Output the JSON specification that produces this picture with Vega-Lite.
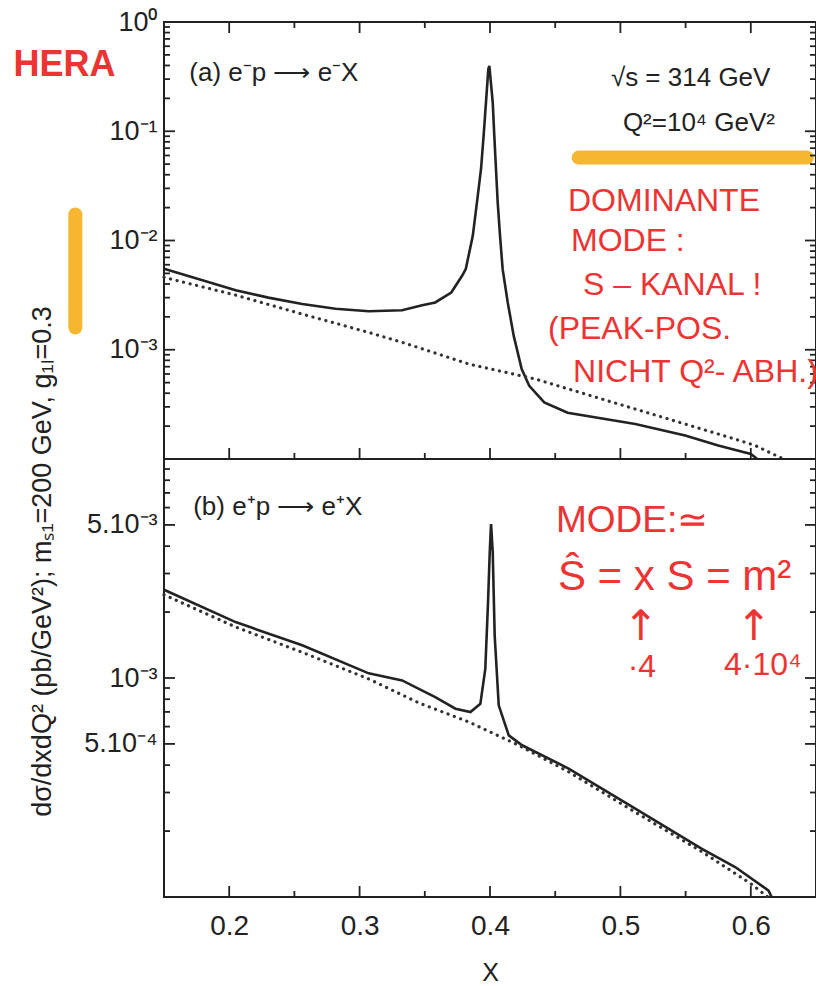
{
  "$schema": "https://vega.github.io/schema/vega-lite/v6.json",
  "padding": {"left": 12, "top": 7, "right": 0, "bottom": 0},
  "bounds": "flush",
  "spacing": 0,
  "background": "white",
  "config": {
    "view": {"stroke": "#222", "strokeWidth": 2},
    "axis": {
      "grid": false,
      "domain": false,
      "ticks": false,
      "tickSize": 0,
      "labelFont": "Liberation Sans",
      "labelFontSize": 27,
      "labelColor": "#222",
      "titleFont": "Liberation Sans",
      "titleColor": "#222",
      "titleFontWeight": "normal"
    },
    "rule": {"color": "#222", "strokeWidth": 1.8},
    "text": {"font": "Liberation Sans"}
  },
  "datasets": {
    "xMajor": [{"x": 0.2}, {"x": 0.3}, {"x": 0.4}, {"x": 0.5}, {"x": 0.6}],
    "xMinor": [{"x": 0.25}, {"x": 0.35}, {"x": 0.45}, {"x": 0.55}],
    "yTopMajor": [{"y": 0.001}, {"y": 0.01}, {"y": 0.1}],
    "yTopMinor": [
      {"y": 0.0002}, {"y": 0.0003}, {"y": 0.0004}, {"y": 0.0005}, {"y": 0.0006}, {"y": 0.0007}, {"y": 0.0008}, {"y": 0.0009},
      {"y": 0.002}, {"y": 0.003}, {"y": 0.004}, {"y": 0.005}, {"y": 0.006}, {"y": 0.007}, {"y": 0.008}, {"y": 0.009},
      {"y": 0.02}, {"y": 0.03}, {"y": 0.04}, {"y": 0.05}, {"y": 0.06}, {"y": 0.07}, {"y": 0.08}, {"y": 0.09},
      {"y": 0.2}, {"y": 0.3}, {"y": 0.4}, {"y": 0.5}, {"y": 0.6}, {"y": 0.7}, {"y": 0.8}, {"y": 0.9}
    ],
    "yBotMajor": [{"y": 0.0005}, {"y": 0.001}, {"y": 0.005}],
    "yBotMinor": [
      {"y": 0.0002}, {"y": 0.0003}, {"y": 0.0004}, {"y": 0.0006}, {"y": 0.0007}, {"y": 0.0008}, {"y": 0.0009},
      {"y": 0.002}, {"y": 0.003}, {"y": 0.004}, {"y": 0.006}, {"y": 0.007}, {"y": 0.008}, {"y": 0.009}
    ],
    "topSolid": [
      {"x": 0.15, "y": 0.0055}, {"x": 0.175, "y": 0.0045}, {"x": 0.205, "y": 0.0035}, {"x": 0.23, "y": 0.003},
      {"x": 0.256, "y": 0.00262}, {"x": 0.2815, "y": 0.00237}, {"x": 0.307, "y": 0.00225}, {"x": 0.3326, "y": 0.0023},
      {"x": 0.348, "y": 0.00255}, {"x": 0.358, "y": 0.00271}, {"x": 0.3703, "y": 0.00334}, {"x": 0.3786, "y": 0.00475},
      {"x": 0.3814, "y": 0.00547}, {"x": 0.3868, "y": 0.01104}, {"x": 0.39, "y": 0.0223}, {"x": 0.3931, "y": 0.0449},
      {"x": 0.3951, "y": 0.0906}, {"x": 0.3969, "y": 0.183}, {"x": 0.3987, "y": 0.369}, {"x": 0.3995, "y": 0.396},
      {"x": 0.4021, "y": 0.183}, {"x": 0.4033, "y": 0.0906}, {"x": 0.4046, "y": 0.0449}, {"x": 0.4059, "y": 0.0223},
      {"x": 0.4077, "y": 0.01104}, {"x": 0.4097, "y": 0.00547}, {"x": 0.4136, "y": 0.00271}, {"x": 0.4182, "y": 0.00134},
      {"x": 0.4243, "y": 0.000665}, {"x": 0.4301, "y": 0.000468}, {"x": 0.4416, "y": 0.00033}, {"x": 0.4595, "y": 0.000265},
      {"x": 0.5114, "y": 0.000209}, {"x": 0.5497, "y": 0.000164}, {"x": 0.575, "y": 0.000133}, {"x": 0.6, "y": 0.000111},
      {"x": 0.605, "y": 0.0001}
    ],
    "topDot": [
      {"x": 0.15, "y": 0.0046}, {"x": 0.205, "y": 0.00316}, {"x": 0.256, "y": 0.00212}, {"x": 0.307, "y": 0.00144},
      {"x": 0.3326, "y": 0.00117}, {"x": 0.3837, "y": 0.00074}, {"x": 0.4347, "y": 0.00054}, {"x": 0.4858, "y": 0.000354},
      {"x": 0.537, "y": 0.000232}, {"x": 0.588, "y": 0.000152}, {"x": 0.6033, "y": 0.000133}, {"x": 0.625, "y": 0.0001}
    ],
    "botSolid": [
      {"x": 0.15, "y": 0.00253}, {"x": 0.2049, "y": 0.0018}, {"x": 0.256, "y": 0.00141}, {"x": 0.307, "y": 0.00105},
      {"x": 0.3326, "y": 0.000975}, {"x": 0.358, "y": 0.000818}, {"x": 0.3735, "y": 0.000724}, {"x": 0.385, "y": 0.000699},
      {"x": 0.3926, "y": 0.000762}, {"x": 0.3964, "y": 0.0011}, {"x": 0.3985, "y": 0.00222}, {"x": 0.3998, "y": 0.00375},
      {"x": 0.4008, "y": 0.00505}, {"x": 0.4021, "y": 0.00375}, {"x": 0.4036, "y": 0.00156}, {"x": 0.4067, "y": 0.00075},
      {"x": 0.4144, "y": 0.000547}, {"x": 0.4246, "y": 0.000493}, {"x": 0.4603, "y": 0.000386}, {"x": 0.5114, "y": 0.000253},
      {"x": 0.5625, "y": 0.000166}, {"x": 0.588, "y": 0.000137}, {"x": 0.6136, "y": 0.000107}, {"x": 0.616, "y": 0.0001}
    ],
    "botDot": [
      {"x": 0.15, "y": 0.0024}, {"x": 0.2049, "y": 0.00171}, {"x": 0.256, "y": 0.00131}, {"x": 0.307, "y": 0.00099},
      {"x": 0.3454, "y": 0.00077}, {"x": 0.3837, "y": 0.00063}, {"x": 0.422, "y": 0.000493}, {"x": 0.4603, "y": 0.000373},
      {"x": 0.5114, "y": 0.000244}, {"x": 0.5625, "y": 0.000161}, {"x": 0.6, "y": 0.000115}, {"x": 0.613, "y": 0.0001}
    ],
    "highlights": [
      {"x": 0.468, "x2": 0.643, "y": 0.0574, "y2": 0.0574},
      {"x": 0.082, "x2": 0.082, "y": 0.0173, "y2": 0.0016}
    ],
    "topPrinted": [
      {"x": 0.1694, "y": 0.344, "text": "(a)  e⁻p ⟶ e⁻X"},
      {"x": 0.4927, "y": 0.31, "text": "√s = 314 GeV"},
      {"x": 0.5019, "y": 0.12, "text": "Q²=10⁴ GeV²"}
    ],
    "hera": [
      {"x": 0.0346, "y": 0.407, "text": "HERA"}
    ],
    "topNotes": [
      {"x": 0.4598, "y": 0.0232, "text": "DOMINANTE"},
      {"x": 0.4621, "y": 0.01, "text": "MODE :"},
      {"x": 0.4713, "y": 0.00388, "text": "S – KANAL !"},
      {"x": 0.4445, "y": 0.001535, "text": "(PEAK-POS."},
      {"x": 0.4637, "y": 0.000621, "text": "NICHT Q²- ABH.)"}
    ],
    "botPrinted": [
      {"x": 0.1724, "y": 0.00602, "text": "(b)  e⁺p ⟶ e⁺X"}
    ],
    "botMode": [
      {"x": 0.4506, "y": 0.0052, "text": "MODE:≃"}
    ],
    "botEq": [
      {"x": 0.4521, "y": 0.00288, "text": "Ŝ = x S = m²"}
    ],
    "botArrows": [
      {"x": 0.5157, "y": 0.001706, "text": "↑"},
      {"x": 0.6023, "y": 0.001706, "text": "↑"}
    ],
    "botVals": [
      {"x": 0.5165, "y": 0.00112, "text": "·4"},
      {"x": 0.6093, "y": 0.00115, "text": "4·10⁴"}
    ]
  },
  "vconcat": [
    {
      "width": 652,
      "height": 437,
      "resolve": {"axis": {"x": "independent", "y": "independent"}},
      "layer": [
        {
          "data": {"name": "highlights"},
          "mark": {"type": "rule", "color": "#f3b324", "strokeWidth": 14, "strokeCap": "round", "opacity": 0.95},
          "encoding": {
            "x": {"field": "x", "type": "quantitative", "scale": {"domain": [0.15, 0.65], "nice": false, "zero": false}, "axis": null},
            "x2": {"field": "x2"},
            "y": {"field": "y", "type": "quantitative", "scale": {"type": "log", "domain": [0.0001, 1], "nice": false}, "axis": null},
            "y2": {"field": "y2"}
          }
        },
        {
          "data": {"name": "xMajor"},
          "mark": {"type": "rule"},
          "encoding": {
            "x": {"field": "x", "type": "quantitative", "axis": null},
            "y": {"datum": 1, "type": "quantitative", "axis": null},
            "y2": {"datum": 0.793}
          }
        },
        {
          "data": {"name": "xMinor"},
          "mark": {"type": "rule"},
          "encoding": {
            "x": {"field": "x", "type": "quantitative", "axis": null},
            "y": {"datum": 1, "type": "quantitative", "axis": null},
            "y2": {"datum": 0.881}
          }
        },
        {
          "data": {"name": "xMajor"},
          "mark": {"type": "rule"},
          "encoding": {
            "x": {"field": "x", "type": "quantitative", "axis": null},
            "y": {"datum": 0.0001, "type": "quantitative", "axis": null},
            "y2": {"datum": 0.00012606}
          }
        },
        {
          "data": {"name": "xMinor"},
          "mark": {"type": "rule"},
          "encoding": {
            "x": {"field": "x", "type": "quantitative", "axis": null},
            "y": {"datum": 0.0001, "type": "quantitative", "axis": null},
            "y2": {"datum": 0.00011348}
          }
        },
        {
          "data": {"name": "yTopMajor"},
          "mark": {"type": "rule"},
          "encoding": {
            "x": {"datum": 0.15, "type": "quantitative", "axis": null},
            "x2": {"datum": 0.15844},
            "y": {"field": "y", "type": "quantitative", "axis": null}
          }
        },
        {
          "data": {"name": "yTopMinor"},
          "mark": {"type": "rule"},
          "encoding": {
            "x": {"datum": 0.15, "type": "quantitative", "axis": null},
            "x2": {"datum": 0.1546},
            "y": {"field": "y", "type": "quantitative", "axis": null}
          }
        },
        {
          "data": {"name": "yTopMajor"},
          "mark": {"type": "rule"},
          "encoding": {
            "x": {"datum": 0.65, "type": "quantitative", "axis": null},
            "x2": {"datum": 0.64156},
            "y": {"field": "y", "type": "quantitative", "axis": null}
          }
        },
        {
          "data": {"name": "yTopMinor"},
          "mark": {"type": "rule"},
          "encoding": {
            "x": {"datum": 0.65, "type": "quantitative", "axis": null},
            "x2": {"datum": 0.6454},
            "y": {"field": "y", "type": "quantitative", "axis": null}
          }
        },
        {
          "data": {"name": "topSolid"},
          "mark": {"type": "line", "color": "#222", "strokeWidth": 2.6},
          "encoding": {
            "x": {"field": "x", "type": "quantitative", "axis": null},
            "y": {"field": "y", "type": "quantitative",
              "axis": {"orient": "left", "title": null, "labelPadding": 7,
                "values": [0.001, 0.01, 0.1, 1],
                "labelExpr": "datum.value == 1 ? '10⁰' : datum.value == 0.1 ? '10⁻¹' : datum.value == 0.01 ? '10⁻²' : datum.value == 0.001 ? '10⁻³' : ''"}}
          }
        },
        {
          "data": {"name": "topDot"},
          "mark": {"type": "line", "color": "#333", "strokeWidth": 3.2, "strokeDash": [0.1, 6.6], "strokeCap": "round"},
          "encoding": {
            "x": {"field": "x", "type": "quantitative", "axis": null},
            "y": {"field": "y", "type": "quantitative", "axis": null}
          }
        },
        {
          "data": {"name": "topPrinted"},
          "mark": {"type": "text", "align": "left", "baseline": "middle", "fontSize": 26, "color": "#222"},
          "encoding": {
            "x": {"field": "x", "type": "quantitative", "axis": null},
            "y": {"field": "y", "type": "quantitative", "axis": null},
            "text": {"field": "text"}
          }
        },
        {
          "data": {"name": "hera"},
          "mark": {"type": "text", "align": "left", "baseline": "middle", "fontSize": 36, "fontWeight": "bold", "color": "#ee3333"},
          "encoding": {
            "x": {"field": "x", "type": "quantitative", "axis": null},
            "y": {"field": "y", "type": "quantitative", "axis": null},
            "text": {"field": "text"}
          }
        },
        {
          "data": {"name": "topNotes"},
          "mark": {"type": "text", "align": "left", "baseline": "middle", "fontSize": 32, "color": "#ee3333"},
          "encoding": {
            "x": {"field": "x", "type": "quantitative", "axis": null},
            "y": {"field": "y", "type": "quantitative", "axis": null},
            "text": {"field": "text"}
          }
        }
      ]
    },
    {
      "width": 652,
      "height": 438,
      "resolve": {"axis": {"x": "independent", "y": "independent"}},
      "layer": [
        {
          "data": {"name": "xMajor"},
          "mark": {"type": "rule"},
          "encoding": {
            "x": {"field": "x", "type": "quantitative", "scale": {"domain": [0.15, 0.65], "nice": false, "zero": false}, "axis": null},
            "y": {"datum": 0.0001, "type": "quantitative", "scale": {"type": "log", "domain": [0.0001, 0.01], "nice": false}, "axis": null},
            "y2": {"datum": 0.00011225}
          }
        },
        {
          "data": {"name": "xMinor"},
          "mark": {"type": "rule"},
          "encoding": {
            "x": {"field": "x", "type": "quantitative", "axis": null},
            "y": {"datum": 0.0001, "type": "quantitative", "axis": null},
            "y2": {"datum": 0.0001065}
          }
        },
        {
          "data": {"name": "yBotMajor"},
          "mark": {"type": "rule"},
          "encoding": {
            "x": {"datum": 0.15, "type": "quantitative", "axis": null},
            "x2": {"datum": 0.15844},
            "y": {"field": "y", "type": "quantitative", "axis": null}
          }
        },
        {
          "data": {"name": "yBotMinor"},
          "mark": {"type": "rule"},
          "encoding": {
            "x": {"datum": 0.15, "type": "quantitative", "axis": null},
            "x2": {"datum": 0.1546},
            "y": {"field": "y", "type": "quantitative", "axis": null}
          }
        },
        {
          "data": {"name": "yBotMajor"},
          "mark": {"type": "rule"},
          "encoding": {
            "x": {"datum": 0.65, "type": "quantitative", "axis": null},
            "x2": {"datum": 0.64156},
            "y": {"field": "y", "type": "quantitative", "axis": null}
          }
        },
        {
          "data": {"name": "yBotMinor"},
          "mark": {"type": "rule"},
          "encoding": {
            "x": {"datum": 0.65, "type": "quantitative", "axis": null},
            "x2": {"datum": 0.6454},
            "y": {"field": "y", "type": "quantitative", "axis": null}
          }
        },
        {
          "data": {"name": "botSolid"},
          "mark": {"type": "line", "color": "#222", "strokeWidth": 2.6},
          "encoding": {
            "x": {"field": "x", "type": "quantitative",
              "axis": {"orient": "bottom", "title": "X", "titleFontSize": 25, "titlePadding": 20, "labelPadding": 15, "labelFontSize": 28,
                "values": [0.2, 0.3, 0.4, 0.5, 0.6],
                "labelExpr": "format(datum.value, '.1f')"}},
            "y": {"field": "y", "type": "quantitative",
              "axis": {"orient": "left", "labelPadding": 7,
                "title": "dσ/dxdQ² (pb/GeV²);   mₛ₁=200 GeV,   g₁ₗ=0.3",
                "titleFontSize": 27, "titleX": -114, "titleY": 102, "titleBaseline": "alphabetic",
                "values": [0.0005, 0.001, 0.005],
                "labelExpr": "datum.value == 0.005 ? '5.10⁻³' : datum.value == 0.001 ? '10⁻³' : datum.value == 0.0005 ? '5.10⁻⁴' : ''"}}
          }
        },
        {
          "data": {"name": "botDot"},
          "mark": {"type": "line", "color": "#333", "strokeWidth": 3.2, "strokeDash": [0.1, 6.6], "strokeCap": "round"},
          "encoding": {
            "x": {"field": "x", "type": "quantitative", "axis": null},
            "y": {"field": "y", "type": "quantitative", "axis": null}
          }
        },
        {
          "data": {"name": "botPrinted"},
          "mark": {"type": "text", "align": "left", "baseline": "middle", "fontSize": 26, "color": "#222"},
          "encoding": {
            "x": {"field": "x", "type": "quantitative", "axis": null},
            "y": {"field": "y", "type": "quantitative", "axis": null},
            "text": {"field": "text"}
          }
        },
        {
          "data": {"name": "botMode"},
          "mark": {"type": "text", "align": "left", "baseline": "middle", "fontSize": 37, "color": "#ee3333"},
          "encoding": {
            "x": {"field": "x", "type": "quantitative", "axis": null},
            "y": {"field": "y", "type": "quantitative", "axis": null},
            "text": {"field": "text"}
          }
        },
        {
          "data": {"name": "botEq"},
          "mark": {"type": "text", "align": "left", "baseline": "middle", "fontSize": 42, "color": "#ee3333"},
          "encoding": {
            "x": {"field": "x", "type": "quantitative", "axis": null},
            "y": {"field": "y", "type": "quantitative", "axis": null},
            "text": {"field": "text"}
          }
        },
        {
          "data": {"name": "botArrows"},
          "mark": {"type": "text", "align": "center", "baseline": "middle", "font": "DejaVu Sans", "fontSize": 42, "color": "#ee3333"},
          "encoding": {
            "x": {"field": "x", "type": "quantitative", "axis": null},
            "y": {"field": "y", "type": "quantitative", "axis": null},
            "text": {"field": "text"}
          }
        },
        {
          "data": {"name": "botVals"},
          "mark": {"type": "text", "align": "center", "baseline": "middle", "fontSize": 32, "color": "#ee3333"},
          "encoding": {
            "x": {"field": "x", "type": "quantitative", "axis": null},
            "y": {"field": "y", "type": "quantitative", "axis": null},
            "text": {"field": "text"}
          }
        }
      ]
    }
  ]
}
